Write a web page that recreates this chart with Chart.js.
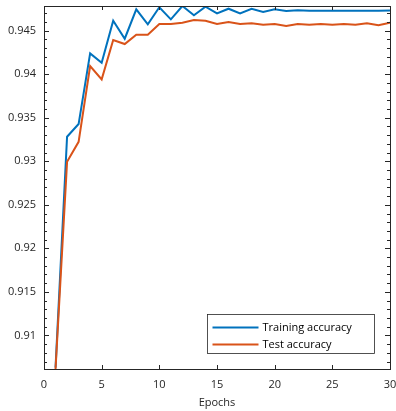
<!DOCTYPE html>
<html>
<head>
<meta charset="utf-8">
<script src="https://cdn.jsdelivr.net/npm/chart.js@4.4.0/dist/chart.umd.min.js"></script>
<style>
  html, body { margin: 0; padding: 0; background: #fff; }
  #wrap { width: 396px; height: 411px; position: relative; }
</style>
</head>
<body>
<div id="wrap"><canvas id="myChart"></canvas></div>
<script>
// data
var epochs = [1, 2, 3, 4, 5, 6, 7, 8, 9, 10, 11, 12, 13, 14, 15, 16, 17, 18, 19, 20, 21, 22, 23, 24, 25, 26, 27, 28, 29, 30];
var trainAcc = [0.9063, 0.93282, 0.93428, 0.94240, 0.94132, 0.94615, 0.94408, 0.94746, 0.94574, 0.94769,
                0.94631, 0.94784, 0.94677, 0.94776, 0.94700, 0.94753, 0.94700, 0.94753, 0.94715, 0.94746,
                0.94728, 0.94734, 0.94730, 0.94728, 0.94730, 0.94729, 0.94728, 0.94728, 0.94730, 0.94733];
var testAcc = [0.90614, 0.92994, 0.93224, 0.94094, 0.93941, 0.94393, 0.94347, 0.94454, 0.94455, 0.94577,
               0.94577, 0.94592, 0.94623, 0.94615, 0.94577, 0.94600, 0.94577, 0.94585, 0.94569, 0.94577,
               0.94554, 0.94577, 0.94569, 0.94577, 0.94569, 0.94577, 0.94569, 0.94585, 0.94562, 0.94592];
var seriesNames = ['Training accuracy', 'Test accuracy'];
var xTitle = 'Epochs';
var xMin = 0, xMax = 30, xStep = 5;
var yMin = 0.90614, yMax = 0.94784, yMinorStep = 0.001, yMajorStep = 0.005;

var axisColor = '#262626';
var font = "'Open Sans', sans-serif";

function pairs(vals) {
    return epochs.map(function (e, i) { return { x: e, y: vals[i] }; });
}

function isMajor(v) {
    var r = v / yMajorStep;
    return Math.abs(r - Math.round(r)) < 1e-6;
}

// matlab style box, inward ticks and legend inside the axes
var matlabAxes = {
    id: 'matlabAxes',
    afterDraw: function (chart) {
        var ctx = chart.ctx;
        var a = chart.chartArea;
        ctx.save();
        ctx.strokeStyle = axisColor;
        ctx.lineWidth = 1;
        ctx.beginPath();
        chart.scales.y.ticks.forEach(function (t) {
            var py = Math.round(chart.scales.y.getPixelForValue(t.value)) + 0.5;
            var len = isMajor(t.value) ? 5 : 3;
            ctx.moveTo(a.left, py); ctx.lineTo(a.left + len, py);
            ctx.moveTo(a.right, py); ctx.lineTo(a.right - len, py);
        });
        chart.scales.x.ticks.forEach(function (t) {
            var px = Math.round(chart.scales.x.getPixelForValue(t.value)) + 0.5;
            ctx.moveTo(px, a.bottom); ctx.lineTo(px, a.bottom - 4);
            ctx.moveTo(px, a.top); ctx.lineTo(px, a.top + 4);
        });
        ctx.stroke();
        ctx.strokeRect(Math.round(a.left) + 0.5, Math.round(a.top) + 0.5,
                       Math.round(a.right - a.left), Math.round(a.bottom - a.top));

        // legend
        var bx = Math.round(a.right) - 182.5, by = Math.round(a.bottom) - 54.5;
        var bw = 167, bh = 39;
        ctx.fillStyle = '#fff';
        ctx.fillRect(bx, by, bw, bh);
        ctx.lineWidth = 0.8;
        ctx.strokeRect(bx, by, bw, bh);
        ctx.font = '11px ' + font;
        ctx.textBaseline = 'middle';
        chart.data.datasets.forEach(function (ds, i) {
            var ly = by + 13 + i * 17;
            ctx.strokeStyle = ds.borderColor;
            ctx.lineWidth = 2;
            ctx.beginPath();
            ctx.moveTo(bx + 5, ly); ctx.lineTo(bx + 51, ly);
            ctx.stroke();
            ctx.fillStyle = '#000';
            ctx.fillText(ds.label, bx + 55, ly);
        });
        ctx.restore();
    }
};

Chart.defaults.font.family = font;
Chart.defaults.font.size = 11;
Chart.defaults.color = axisColor;

const ctx = document.getElementById('myChart');
const myChart = new Chart(ctx, {
    type: 'line',
    data: {
        datasets: [{
            label: seriesNames[0],
            data: pairs(trainAcc),
            borderColor: '#0072BD',
            borderWidth: 2,
            pointRadius: 0,
            order: 2
        }, {
            label: seriesNames[1],
            data: pairs(testAcc),
            borderColor: '#D95319',
            borderWidth: 2,
            pointRadius: 0,
            order: 1
        }]
    },
    options: {
        responsive: true,
        maintainAspectRatio: false,
        animation: false,
        layout: { padding: { top: 6, right: 6, left: 0, bottom: 0 } },
        plugins: {
            legend: { display: false },
            tooltip: { enabled: false }
        },
        scales: {
            x: {
                type: 'linear',
                min: xMin,
                max: xMax,
                grid: { display: false, drawTicks: false },
                border: { display: false },
                ticks: { stepSize: xStep, padding: 9, maxRotation: 0 },
                title: { display: true, text: xTitle, padding: { top: 2, bottom: 2 } },
                afterFit: function (s) { s.height = 42; s.paddingRight = 0; s.paddingLeft = 0; }
            },
            y: {
                min: yMin,
                max: yMax,
                grid: { display: false, drawTicks: false },
                border: { display: false },
                ticks: {
                    stepSize: yMinorStep,
                    includeBounds: false,
                    autoSkip: false,
                    padding: 8,
                    callback: function (v) {
                        return isMajor(v) ? String(Number(v.toFixed(3))) : '';
                    }
                },
                afterFit: function (s) { s.width = 44; s.paddingTop = 0; s.paddingBottom = 0; }
            }
        }
    },
    plugins: [matlabAxes]
});
</script>
</body>
</html>
